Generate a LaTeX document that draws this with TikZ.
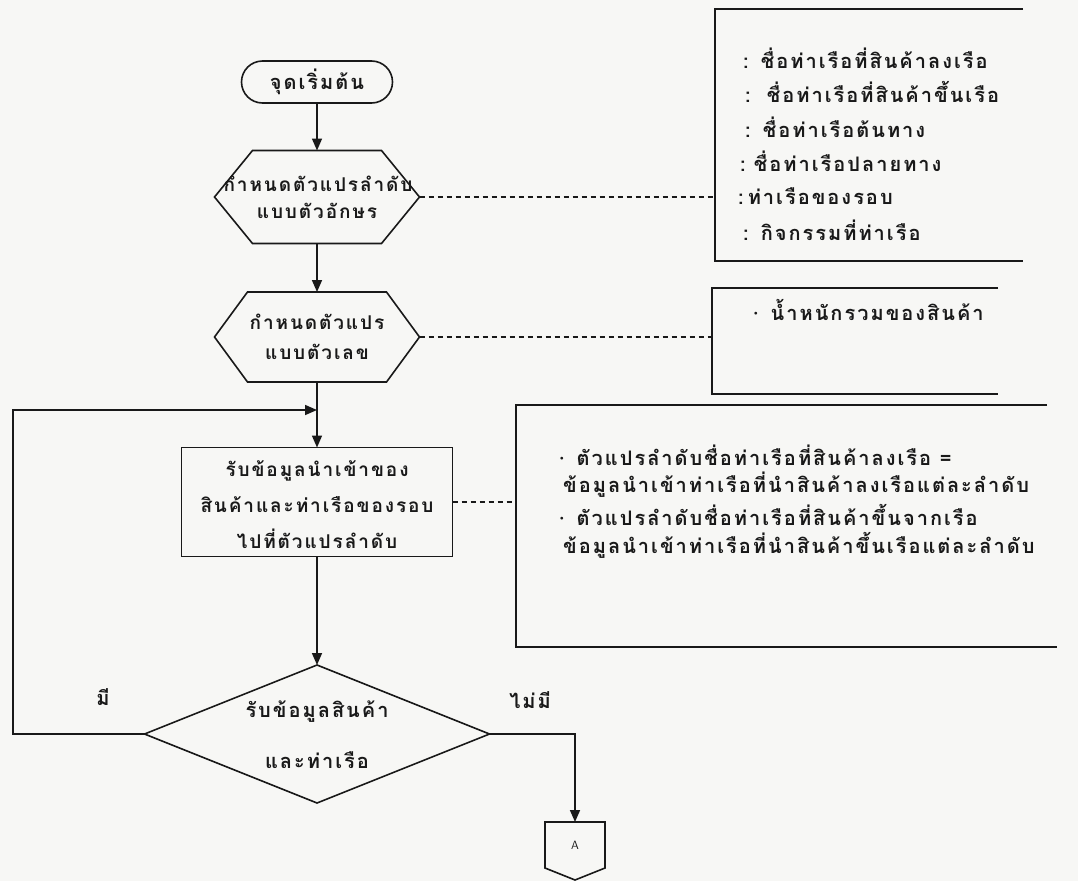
\documentclass[tikz,border=0pt]{standalone}
\usepackage{fontspec}
\newfontfamily\thai[Script=Thai,LetterSpace=10]{Loma}
\usetikzlibrary{arrows.meta,calc}
\definecolor{paper}{RGB}{247,247,245}
\definecolor{ink}{RGB}{25,25,25}
\begin{document}
\begin{tikzpicture}[x=1pt,y=-1pt,
  lw/.style={line width=1.6pt, draw=ink},
  arr/.style={lw, -{Triangle[length=12pt,width=10pt]}},
  dotline/.style={line width=1.1pt, draw=ink, dash pattern=on 5pt off 4pt},
  ghost/.style={inner sep=0pt, outer sep=0pt},
  txt/.style={font=\thai\bfseries\fontsize{20}{26}\selectfont, text=ink, inner sep=0pt},
  stxt/.style={font=\thai\bfseries\fontsize{19}{24}\selectfont, text=ink, inner sep=0pt},
  note/.style={txt, anchor=west},
  term/.style={ghost, draw=ink, line width=1.6pt, rounded corners=21pt, minimum width=151pt, minimum height=42pt}
]
\fill[paper] (0,0) rectangle (1078,881);
\useasboundingbox (0,0) rectangle (1078,881);

% start
\node[term, txt] (start) at (317,82) {จุดเริ่มต้น};

% hexagon 1
\node[ghost, minimum width=205pt, minimum height=93pt] (h1) at (317,197) {};
\draw[lw] (h1.west) -- ($(h1.north west)+(38,0)$) -- ($(h1.north east)+(-38,0)$) -- (h1.east)
  -- ($(h1.south east)+(-38,0)$) -- ($(h1.south west)+(38,0)$) -- cycle;
\node[stxt] (h1a) at (318,184) {กำหนดตัวแปรลำดับ};
\node[stxt] (h1b) at (317,211) {แบบตัวอักษร};

% hexagon 2
\node[ghost, minimum width=205pt, minimum height=90pt] (h2) at (317,337) {};
\draw[lw] (h2.west) -- ($(h2.north west)+(33,0)$) -- ($(h2.north east)+(-33,0)$) -- (h2.east)
  -- ($(h2.south east)+(-33,0)$) -- ($(h2.south west)+(33,0)$) -- cycle;
\node[stxt] (h2a) at (317,322) {กำหนดตัวแปร};
\node[stxt] (h2b) at (317,352) {แบบตัวเลข};

% process box
\node[ghost, draw=ink, line width=1.6pt, minimum width=271pt, minimum height=109pt] (proc) at (317,502) {};
\node[stxt] (pa) at (317,471) {รับข้อมูลนำเข้าของ};
\node[stxt] (pb) at (317,505) {สินค้าและท่าเรือของรอบ};
\node[stxt] (pc) at (317,539) {ไปที่ตัวแปรลำดับ};

% decision
\node[ghost, minimum width=345pt, minimum height=138pt] (dec) at (317,734) {};
\draw[lw] (dec.west) -- (dec.north) -- (dec.east) -- (dec.south) -- cycle;
\node[txt] (da) at (317,712) {รับข้อมูลสินค้า};
\node[txt] (db) at (317,760) {และท่าเรือ};
\node[txt] (yes) at (103,697) {มี};
\node[txt] (no) at (530,700) {ไม่มี};

% off-page connector
\node[ghost, minimum width=60pt, minimum height=46pt] (conA) at (575,845) {};
\draw[lw] (conA.north west) -- (conA.north east) -- (conA.south east) -- ($(conA.south)+(0,12)$)
  -- (conA.south west) -- cycle;
\node[font=\sffamily\fontsize{12}{12}\selectfont, text=ink, inner sep=0pt] (conAt) at (575,845) {A};

% connectors
\coordinate (merge) at (317,410);
\coordinate (loopc) at (13,410);
\draw[arr] (start.south) -- (h1.north);
\draw[arr] (h1.south) -- (h2.north);
\draw[arr] (h2.south) -- (proc.north);
\draw[arr] (dec.west) -| (loopc) -- (merge);
\draw[arr] (proc.south) -- (dec.north);
\draw[arr] (dec.east) -| (conA.north);

% annotation boxes
\node[ghost, minimum width=308pt, minimum height=252pt] (b1) at (869,135) {};
\draw[lw] (b1.north east) -- (b1.north west) -- (b1.south west) -- (b1.south east);
\node[ghost, minimum width=286pt, minimum height=106pt] (b2) at (855,341) {};
\draw[lw] (b2.north east) -- (b2.north west) -- (b2.south west) -- (b2.south east);
\node[ghost, minimum width=531pt, minimum height=242pt] (b3) at (781.5,526) {};
\draw[lw] (b3.north east) -- (b3.north west) -- (b3.south west) -- ($(b3.south east)+(10,0)$);

\draw[dotline] (h1.east) -- (h1.east -| b1.west);
\draw[dotline] (h2.east) -- (h2.east -| b2.west);
\draw[dotline] (proc.east) -- (proc.east -| b3.west);

% box 1 text
\node[note] (t11) at (743,58) {:\hspace{12pt}ชื่อท่าเรือที่สินค้าลงเรือ};
\node[note] (t12) at (745,92) {:\hspace{16pt}ชื่อท่าเรือที่สินค้าขึ้นเรือ};
\node[note] (t13) at (745,127) {:\hspace{12pt}ชื่อท่าเรือต้นทาง};
\node[note] (t14) at (740,161) {:\hspace{8pt}ชื่อท่าเรือปลายทาง};
\node[note] (t15) at (738,196) {:\hspace{4pt}ท่าเรือของรอบ};
\node[note] (t16) at (743,230) {:\hspace{12pt}กิจกรรมที่ท่าเรือ};

% box 2 text
\node[note] (t21) at (747,310) {{\rmfamily ·}\hspace{6pt}น้ำหนักรวมของสินค้า};

% box 3 text
\node[note] (t31) at (553,455) {{\rmfamily ·}\hspace{6pt}ตัวแปรลำดับชื่อท่าเรือที่สินค้าลงเรือ =};
\node[note] (t32) at (563,485) {ข้อมูลนำเข้าท่าเรือที่นำสินค้าลงเรือแต่ละลำดับ};
\node[note] (t33) at (553,515) {{\rmfamily ·}\hspace{6pt}ตัวแปรลำดับชื่อท่าเรือที่สินค้าขึ้นจากเรือ};
\node[note] (t34) at (563,545) {ข้อมูลนำเข้าท่าเรือที่นำสินค้าขึ้นเรือแต่ละลำดับ};
\end{tikzpicture}
\end{document}
